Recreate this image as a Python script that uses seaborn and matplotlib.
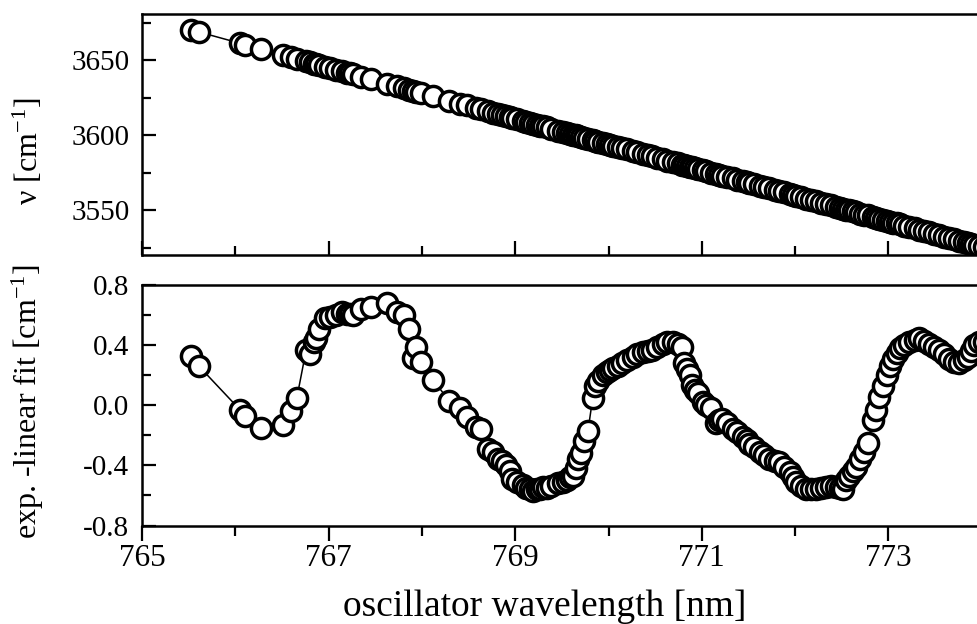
import matplotlib
matplotlib.use("Agg")
import matplotlib.pyplot as plt
import seaborn as sns
import pandas as pd
from matplotlib.ticker import FixedLocator, FormatStrFormatter

# ---------------- data ----------------
wavelength = [
    765.53, 765.61, 766.05, 766.10, 766.28, 766.51, 766.60, 766.66, 766.76, 766.80,
    766.84, 766.87, 766.90, 766.96, 767.01, 767.08, 767.14, 767.20, 767.23, 767.26,
    767.35, 767.45, 767.63, 767.73, 767.81, 767.86, 767.90, 767.94, 767.99, 768.12,
    768.29, 768.41, 768.48, 768.58, 768.63, 768.71, 768.76, 768.82, 768.86, 768.90,
    768.94, 768.97, 769.02, 769.08, 769.12, 769.16, 769.19, 769.23, 769.27, 769.30,
    769.34, 769.38, 769.46, 769.51, 769.55, 769.59, 769.62, 769.65, 769.67, 769.70,
    769.74, 769.78, 769.83, 769.86, 769.89, 769.94, 769.98, 770.02, 770.05, 770.10,
    770.15, 770.20, 770.26, 770.31, 770.37, 770.42, 770.47, 770.52, 770.58, 770.63,
    770.69, 770.74, 770.79, 770.81, 770.84, 770.87, 770.90, 770.93, 770.96, 771.01,
    771.05, 771.10, 771.15, 771.18, 771.22, 771.27, 771.33, 771.38, 771.44, 771.48,
    771.51, 771.56, 771.62, 771.67, 771.72, 771.78, 771.83, 771.88, 771.94, 771.98,
    772.01, 772.06, 772.12, 772.17, 772.22, 772.28, 772.33, 772.38, 772.44, 772.48,
    772.51, 772.55, 772.58, 772.62, 772.65, 772.70, 772.74, 772.78, 772.83, 772.87,
    772.90, 772.94, 772.99, 773.02, 773.05, 773.09, 773.12, 773.17, 773.22, 773.28,
    773.33, 773.38, 773.44, 773.49, 773.54, 773.60, 773.65, 773.70, 773.76, 773.81,
    773.85, 773.89, 773.92, 773.97, 774.02, 774.08,
]

wavenumber = [
    3670.3, 3669.0, 3661.4, 3660.6, 3657.5, 3653.6, 3652.0, 3651.0, 3649.3, 3648.6,
    3647.9, 3647.4, 3646.9, 3645.9, 3645.0, 3643.8, 3642.8, 3641.8, 3641.3, 3640.8,
    3639.2, 3637.5, 3634.4, 3632.7, 3631.3, 3630.5, 3629.8, 3629.1, 3628.3, 3626.0,
    3623.1, 3621.1, 3619.9, 3618.2, 3617.3, 3616.0, 3615.1, 3614.1, 3613.4, 3612.7,
    3612.0, 3611.5, 3610.7, 3609.6, 3608.9, 3608.3, 3607.8, 3607.1, 3606.4, 3605.9,
    3605.2, 3604.5, 3603.1, 3602.3, 3601.6, 3600.9, 3600.4, 3599.9, 3599.5, 3599.0,
    3598.3, 3597.7, 3596.8, 3596.3, 3595.8, 3594.9, 3594.2, 3593.6, 3593.0, 3592.2,
    3591.3, 3590.5, 3589.5, 3588.6, 3587.6, 3586.7, 3585.9, 3585.0, 3584.0, 3583.1,
    3582.1, 3581.2, 3580.4, 3580.0, 3579.5, 3579.0, 3578.5, 3578.0, 3577.5, 3576.6,
    3575.9, 3575.1, 3574.2, 3573.7, 3573.0, 3572.2, 3571.2, 3570.3, 3569.3, 3568.6,
    3568.1, 3567.2, 3566.2, 3565.3, 3564.5, 3563.5, 3562.6, 3561.8, 3560.7, 3560.0,
    3559.5, 3558.7, 3557.6, 3556.8, 3555.9, 3554.9, 3554.1, 3553.2, 3552.2, 3551.5,
    3551.0, 3550.3, 3549.8, 3549.1, 3548.6, 3547.7, 3547.0, 3546.4, 3545.5, 3544.8,
    3544.3, 3543.6, 3542.8, 3542.3, 3541.7, 3541.1, 3540.5, 3539.7, 3538.8, 3537.8,
    3537.0, 3536.1, 3535.1, 3534.2, 3533.4, 3532.3, 3531.5, 3530.6, 3529.6, 3528.7,
    3528.1, 3527.4, 3526.9, 3526.0, 3525.2, 3524.1,
]

residual = [
    0.33, 0.26, -0.03, -0.07, -0.15, -0.13, -0.04, 0.05, 0.37, 0.34,
    0.42, 0.45, 0.51, 0.58, 0.59, 0.60, 0.62, 0.61, 0.61, 0.60,
    0.64, 0.655, 0.68, 0.62, 0.60, 0.51, 0.315, 0.39, 0.29, 0.17,
    0.03, -0.02, -0.08, -0.145, -0.16, -0.29, -0.31, -0.355, -0.37, -0.40,
    -0.44, -0.49, -0.51, -0.53, -0.55, -0.56, -0.57, -0.56, -0.555, -0.545,
    -0.55, -0.54, -0.52, -0.51, -0.50, -0.48, -0.47, -0.42, -0.36, -0.32,
    -0.24, -0.17, 0.045, 0.13, 0.16, 0.20, 0.22, 0.235, 0.245, 0.26,
    0.28, 0.30, 0.32, 0.34, 0.355, 0.36, 0.37, 0.39, 0.41, 0.42,
    0.42, 0.41, 0.39, 0.28, 0.24, 0.20, 0.135, 0.10, 0.08, 0.02,
    0.00, -0.02, -0.12, -0.10, -0.09, -0.12, -0.155, -0.18, -0.21, -0.23,
    -0.255, -0.28, -0.31, -0.33, -0.355, -0.37, -0.38, -0.41, -0.445, -0.48,
    -0.51, -0.535, -0.555, -0.56, -0.555, -0.55, -0.545, -0.54, -0.545, -0.55,
    -0.555, -0.50, -0.47, -0.44, -0.41, -0.36, -0.31, -0.25, -0.10, -0.03,
    0.055, 0.13, 0.20, 0.26, 0.31, 0.35, 0.38, 0.40, 0.42, 0.435,
    0.445, 0.43, 0.41, 0.39, 0.37, 0.34, 0.31, 0.29, 0.28, 0.30,
    0.32, 0.36, 0.40, 0.42, 0.42, 0.42,
]

x_major = [765, 767, 769, 771, 773]
x_minor = [766, 768, 770, 772, 774]
nu_major = [3550, 3600, 3650]
nu_minor = [3525, 3575, 3625, 3675]
res_major = [-0.8, -0.4, 0.0, 0.4, 0.8]
res_minor = [-0.6, -0.2, 0.2, 0.6]

df = pd.DataFrame({"wavelength": wavelength, "nu": wavenumber, "res": residual})

# ---------------- style ----------------
sns.set_theme(style="white")
plt.rcParams["font.family"] = ["Liberation Serif", "DejaVu Serif"]
plt.rcParams["mathtext.fontset"] = "custom"
plt.rcParams["mathtext.rm"] = "Liberation Serif"
plt.rcParams["mathtext.it"] = "Liberation Serif:italic"
plt.rcParams["axes.unicode_minus"] = False
for key in ("text.color", "axes.labelcolor", "xtick.color", "ytick.color", "axes.edgecolor"):
    plt.rcParams[key] = "black"

W, H = 977, 624
fig = plt.figure(figsize=(W / 100, H / 100), dpi=100)
fig.patch.set_facecolor("white")


def px_axes(left, top, right, bottom):
    return fig.add_axes([left / W, 1 - bottom / H, (right - left) / W, (bottom - top) / H])


ax1 = px_axes(142, 14, 1000, 255)
ax2 = px_axes(142, 285, 1000, 525.5)
px_per_nm = 93.3
xmax = 765 + (1000 - 142) / px_per_nm

line_kw = dict(color="black", lw=1.1, marker="o", markersize=14.5,
               markerfacecolor="white", markeredgecolor="black",
               markeredgewidth=2.5, sort=False, estimator=None, legend=False)

sns.lineplot(data=df, x="wavelength", y="nu", ax=ax1, **line_kw)
sns.lineplot(data=df, x="wavelength", y="res", ax=ax2, **line_kw)

for ax in (ax1, ax2):
    ax.set_xlim(765, xmax)
    ax.set_facecolor("white")
    for s in ax.spines.values():
        s.set_linewidth(1.8)
        s.set_color("black")
    ax.xaxis.set_major_locator(FixedLocator(x_major))
    ax.xaxis.set_minor_locator(FixedLocator(x_minor))

ax1.set_ylim(3520, 3681)
ax1.yaxis.set_major_locator(FixedLocator(nu_major))
ax1.yaxis.set_minor_locator(FixedLocator(nu_minor))
ax1.tick_params(axis="both", which="both", direction="in", width=1.6,
                top=False, right=False, bottom=True, left=True, colors="black")
ax1.tick_params(axis="both", which="major", length=10)
ax1.tick_params(axis="both", which="minor", length=6.5)
ax1.tick_params(axis="x", labelbottom=False)
ax1.tick_params(axis="y", labelsize=21, pad=9)
ax1.set_xlabel("")
ax1.set_ylabel(r"ν [cm$^{-1}$]", fontsize=23, va="center")
ax1.yaxis.set_label_coords((28 - 142) / 858, (255 - 151) / 241)

ax2.set_ylim(-0.8, 0.8)
ax2.yaxis.set_major_locator(FixedLocator(res_major))
ax2.yaxis.set_minor_locator(FixedLocator(res_minor))
ax2.yaxis.set_major_formatter(FormatStrFormatter("%.1f"))
ax2.xaxis.set_major_formatter(FormatStrFormatter("%d"))
ax2.tick_params(axis="y", which="both", direction="in", width=1.6, left=True, right=False,
                colors="black")
ax2.tick_params(axis="y", which="major", length=10, labelsize=21, pad=9)
ax2.tick_params(axis="y", which="minor", length=6.5)
ax2.tick_params(axis="x", which="both", direction="out", width=1.6, bottom=True, top=False,
                colors="black")
ax2.tick_params(axis="x", which="major", length=10.5, labelsize=22.5, pad=3)
ax2.tick_params(axis="x", which="minor", length=7)
ax2.set_xlabel("oscillator wavelength [nm]", fontsize=27, va="baseline")
ax2.xaxis.set_label_coords((545 - 142) / 858, -(616 - 525.5) / 240.5)
ax2.set_ylabel(r"exp. -linear fit [cm$^{-1}$]", fontsize=23, va="center")
ax2.yaxis.set_label_coords((28 - 142) / 858, (525.5 - 402) / 240.5)

fig.savefig("out.png", dpi=100, facecolor="white")
